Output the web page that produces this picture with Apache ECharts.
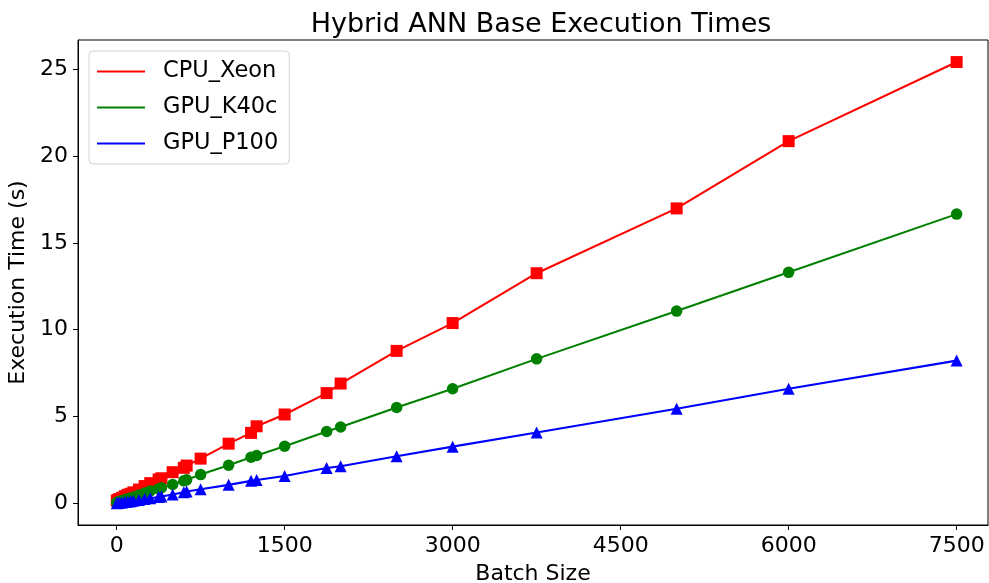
<!DOCTYPE html>
<html>
<head>
<meta charset="utf-8">
<title>Hybrid ANN Base Execution Times</title>
<script src="https://cdn.jsdelivr.net/npm/echarts@6/dist/echarts.min.js"></script>
<style>
  html, body { margin: 0; padding: 0; background: #fff; overflow: hidden; }
  #chart { width: 989px; height: 583px; }
</style>
</head>
<body>
<div id="chart"></div>
<script>
// Batch sizes shared by all three runs
const batchSizes = [1, 10, 25, 50, 75, 100, 125, 150, 200, 250, 300, 375, 400, 500, 600, 625,
  750, 1000, 1200, 1250, 1500, 1875, 2000, 2500, 3000, 3750, 5000, 6000, 7500];

// Execution times in seconds
const cpuXeon = [0.16, 0.2, 0.26, 0.33, 0.42, 0.5, 0.56, 0.64, 0.8, 1.0, 1.17, 1.38, 1.45, 1.8, 2.05, 2.18,
  2.58, 3.44, 4.06, 4.44, 5.12, 6.35, 6.9, 8.78, 10.38, 13.25, 16.98, 20.85, 25.4];
const gpuK40c = [0.06, 0.08, 0.12, 0.17, 0.22, 0.27, 0.32, 0.37, 0.48, 0.6, 0.72, 0.84, 0.91, 1.09, 1.3, 1.36,
  1.66, 2.2, 2.66, 2.76, 3.29, 4.14, 4.4, 5.52, 6.6, 8.32, 11.07, 13.3, 16.65];
const gpuP100 = [0.01, 0.02, 0.04, 0.06, 0.08, 0.1, 0.13, 0.15, 0.2, 0.25, 0.3, 0.37, 0.4, 0.52, 0.64, 0.69,
  0.82, 1.07, 1.3, 1.35, 1.58, 2.04, 2.14, 2.72, 3.27, 4.08, 5.45, 6.6, 8.22];

const xTicks = [0, 1500, 3000, 4500, 6000, 7500];
const yTicks = [0, 5, 10, 15, 20, 25];

const FONT = 'DejaVu Sans';

function pairs(ys) {
  return batchSizes.map((x, i) => [x, ys[i]]);
}

function lineSeries(name, ys, color, symbol, size) {
  return {
    name: name,
    type: 'line',
    data: pairs(ys),
    symbol: symbol,
    symbolSize: size,
    showSymbol: true,
    lineStyle: { color: color, width: 2.1 },
    itemStyle: { color: color, borderWidth: 0 },
    emphasis: { disabled: true },
    animation: false
  };
}

const chart = echarts.init(document.getElementById('chart'), null, { renderer: 'canvas' });

chart.setOption({
  backgroundColor: '#fff',
  animation: false,
  title: {
    text: 'Hybrid ANN Base Execution Times',
    left: 536,
    textAlign: 'center',
    top: 6,
    textStyle: { fontFamily: FONT, fontSize: 27, fontWeight: 'normal', color: '#000' }
  },
  legend: {
    orient: 'vertical',
    left: 89,
    top: 51,
    padding: [9, 11, 9, 8],
    itemGap: 13,
    itemWidth: 48,
    itemHeight: 2,
    icon: 'rect',
    backgroundColor: '#fff',
    borderColor: '#d0d0d0',
    borderWidth: 1,
    borderRadius: 4,
    textStyle: {
      fontFamily: FONT, fontSize: 22.5, color: '#000',
      lineHeight: 22, padding: [0, 0, 0, 13]
    },
    data: [
      { name: 'CPU_Xeon', itemStyle: { color: '#ff0000' } },
      { name: 'GPU_K40c', itemStyle: { color: '#008000' } },
      { name: 'GPU_P100', itemStyle: { color: '#0000ff' } }
    ]
  },
  grid: {
    left: 78, right: 1, top: 40, bottom: 58,
    outerBoundsMode: 'none',
    containLabel: false,
    show: true, borderColor: '#000', borderWidth: 1, backgroundColor: 'transparent'
  },
  xAxis: {
    type: 'value',
    min: -345,
    max: 7780,
    name: 'Batch Size',
    nameLocation: 'middle',
    nameGap: 38,
    nameTextStyle: { fontFamily: FONT, fontSize: 22, color: '#000' },
    axisLine: { show: true, onZero: false, lineStyle: { color: '#000', width: 1 } },
    axisTick: { show: true, inside: false, length: 5, lineStyle: { color: '#000' }, customValues: xTicks },
    axisLabel: {
      fontFamily: FONT, fontSize: 22, color: '#000', margin: 10, customValues: xTicks,
      formatter: v => String(v)
    },
    splitLine: { show: false }
  },
  yAxis: {
    type: 'value',
    min: -1.24,
    max: 26.67,
    name: 'Execution Time (s)',
    nameLocation: 'middle',
    nameGap: 46,
    nameTextStyle: { fontFamily: FONT, fontSize: 22, color: '#000' },
    axisLine: { show: true, onZero: false, lineStyle: { color: '#000', width: 1 } },
    axisTick: { show: true, inside: false, length: 5, lineStyle: { color: '#000' }, customValues: yTicks },
    axisLabel: {
      fontFamily: FONT, fontSize: 22, color: '#000', margin: 10, customValues: yTicks,
      formatter: v => String(v)
    },
    splitLine: { show: false }
  },
  series: [
    lineSeries('CPU_Xeon', cpuXeon, '#ff0000', 'rect', 12),
    lineSeries('GPU_K40c', gpuK40c, '#008000', 'circle', 11.5),
    lineSeries('GPU_P100', gpuP100, '#0000ff', 'triangle', 12)
  ]
});
</script>
</body>
</html>
